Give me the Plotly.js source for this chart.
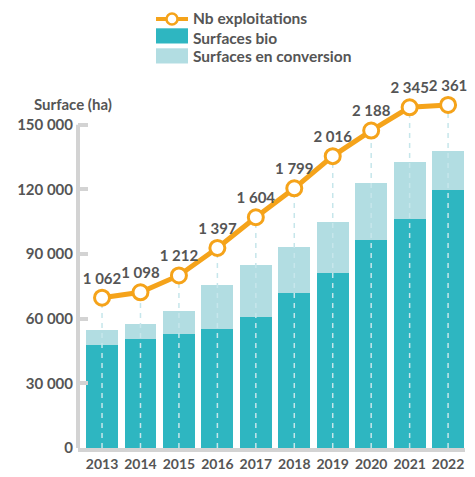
<!DOCTYPE html>
<html>
<head>
<meta charset="utf-8">
<script src="https://cdn.plot.ly/plotly-3.0.1.min.js"></script>
<style>html,body{margin:0;padding:0;background:#fff;}#chart{width:475px;height:477px;}</style>
</head>
<body>
<div id="chart"></div>
<script>
const years = [2013, 2014, 2015, 2016, 2017, 2018, 2019, 2020, 2021, 2022];
const surfacesBio = [48000, 50600, 53000, 55300, 61000, 72100, 81300, 96600, 106300, 119800];
const surfacesConversion = [6800, 7000, 10600, 20400, 24000, 21200, 23700, 26500, 26500, 18100];
const nbExploitations = [1062, 1098, 1212, 1397, 1604, 1799, 2016, 2188, 2345, 2361];
const yTickVals = [0, 30000, 60000, 90000, 120000, 150000];
const seriesNames = ['Nb exploitations', 'Surfaces bio', 'Surfaces en conversion'];

const FONT = 'Lato, "Liberation Sans Narrow", sans-serif';
const GRAY = '#555555';
const AXIS = '#d3d3d3';
const ORANGE = '#f5a31a';
const BIO = '#2eb6c1';
const CONV = '#b2dde2';
const y2Range = [49, 2401];

// plot area geometry (pixels) for placing the hand-drawn legend
const M = {l: 78, r: 10, t: 99, b: 29};
const W = 475, H = 477;
const PW = W - M.l - M.r, PH = H - M.t - M.b;
const px = x => (x - M.l) / PW;
const py = y => (H - M.b - y) / PH;

function fmt(n) {
  return String(n).replace(/\B(?=(\d{3})+(?!\d))/g, ' ');
}

// dashed drop lines from each point down to the base
const dropX = [], dropY = [];
years.forEach((yr, i) => {
  dropX.push(yr, yr, null);
  dropY.push(y2Range[0], nbExploitations[i], null);
});

const traces = [
  {
    type: 'bar', name: seriesNames[1], x: years, y: surfacesBio,
    marker: {color: BIO}, width: 0.83, hoverinfo: 'skip', showlegend: false
  },
  {
    type: 'bar', name: seriesNames[2], x: years, y: surfacesConversion,
    marker: {color: CONV}, width: 0.83, hoverinfo: 'skip', showlegend: false
  },
  {
    type: 'scatter', mode: 'lines', x: dropX, y: dropY, yaxis: 'y2',
    line: {color: '#c6e6eb', width: 1.5, dash: '5px,5px'},
    showlegend: false, hoverinfo: 'skip', connectgaps: false
  },
  {
    type: 'scatter', mode: 'lines+markers+text', name: seriesNames[0],
    x: years, y: nbExploitations, yaxis: 'y2',
    text: nbExploitations.map(fmt), textposition: 'top center',
    textfont: {family: FONT, size: 15, color: GRAY, weight: 'bold'},
    line: {color: ORANGE, width: 5},
    marker: {size: 15, color: '#ffffff', line: {color: ORANGE, width: 3}},
    cliponaxis: false, hoverinfo: 'skip', showlegend: false
  }
];

// hand-drawn legend (symbols as shapes, labels as annotations)
const legendRows = [18.5, 37.5, 56];
const legendShapes = [
  {type: 'line', xref: 'paper', yref: 'paper', x0: px(156), x1: px(188), y0: py(19), y1: py(19),
   line: {color: ORANGE, width: 4}},
  {type: 'circle', xref: 'paper', yref: 'paper', x0: px(166.5), x1: px(177.5), y0: py(13.5), y1: py(24.5),
   line: {color: ORANGE, width: 2.5}, fillcolor: '#ffffff'},
  {type: 'rect', xref: 'paper', yref: 'paper', x0: px(156), x1: px(188), y0: py(28.3), y1: py(43.5),
   line: {width: 0}, fillcolor: BIO},
  {type: 'rect', xref: 'paper', yref: 'paper', x0: px(156), x1: px(188), y0: py(48.3), y1: py(63.5),
   line: {width: 0}, fillcolor: CONV}
];
const legendAnnotations = seriesNames.map((name, i) => ({
  text: name, xref: 'paper', yref: 'paper', x: px(191), y: py(legendRows[i]),
  xanchor: 'left', yanchor: 'middle', showarrow: false,
  font: {family: FONT, size: 15.5, color: GRAY, weight: 'bold'}
}));

const layout = {
  width: W, height: H,
  margin: M,
  paper_bgcolor: '#ffffff', plot_bgcolor: '#ffffff',
  barmode: 'stack',
  showlegend: false,
  xaxis: {
    range: [2012.375, 2022.44],
    tickvals: years, ticktext: years.map(String), tickangle: 0,
    showgrid: false, zeroline: false,
    showline: true, linecolor: AXIS, linewidth: 4,
    ticks: '', tickfont: {family: FONT, size: 14, color: GRAY, weight: 'bold'},
    fixedrange: true
  },
  yaxis: {
    range: [0, 162000],
    tickvals: yTickVals, ticktext: yTickVals.map(fmt),
    showgrid: false, zeroline: false, showline: false,
    ticks: 'inside', ticklen: 10, tickwidth: 4, tickcolor: AXIS,
    tickfont: {family: FONT, size: 15, color: GRAY, weight: 'bold'},
    ticklabelstandoff: 4,
    fixedrange: true
  },
  yaxis2: {
    overlaying: 'y', range: y2Range, visible: false, fixedrange: true
  },
  shapes: [
    {type: 'line', xref: 'paper', yref: 'y', xsizemode: 'pixel', xanchor: 0,
     x0: 0, x1: 0, y0: -2500, y1: 150000, line: {color: AXIS, width: 4}, layer: 'above'}
  ].concat(legendShapes),
  annotations: [
    {text: 'Surface (ha)', xref: 'paper', yref: 'paper', x: px(73), y: py(104),
     xanchor: 'center', yanchor: 'middle', showarrow: false,
     font: {family: FONT, size: 15, color: GRAY, weight: 'bold'}}
  ].concat(legendAnnotations)
};

Plotly.newPlot('chart', traces, layout, {displayModeBar: false, staticPlot: true});
</script>
</body>
</html>
